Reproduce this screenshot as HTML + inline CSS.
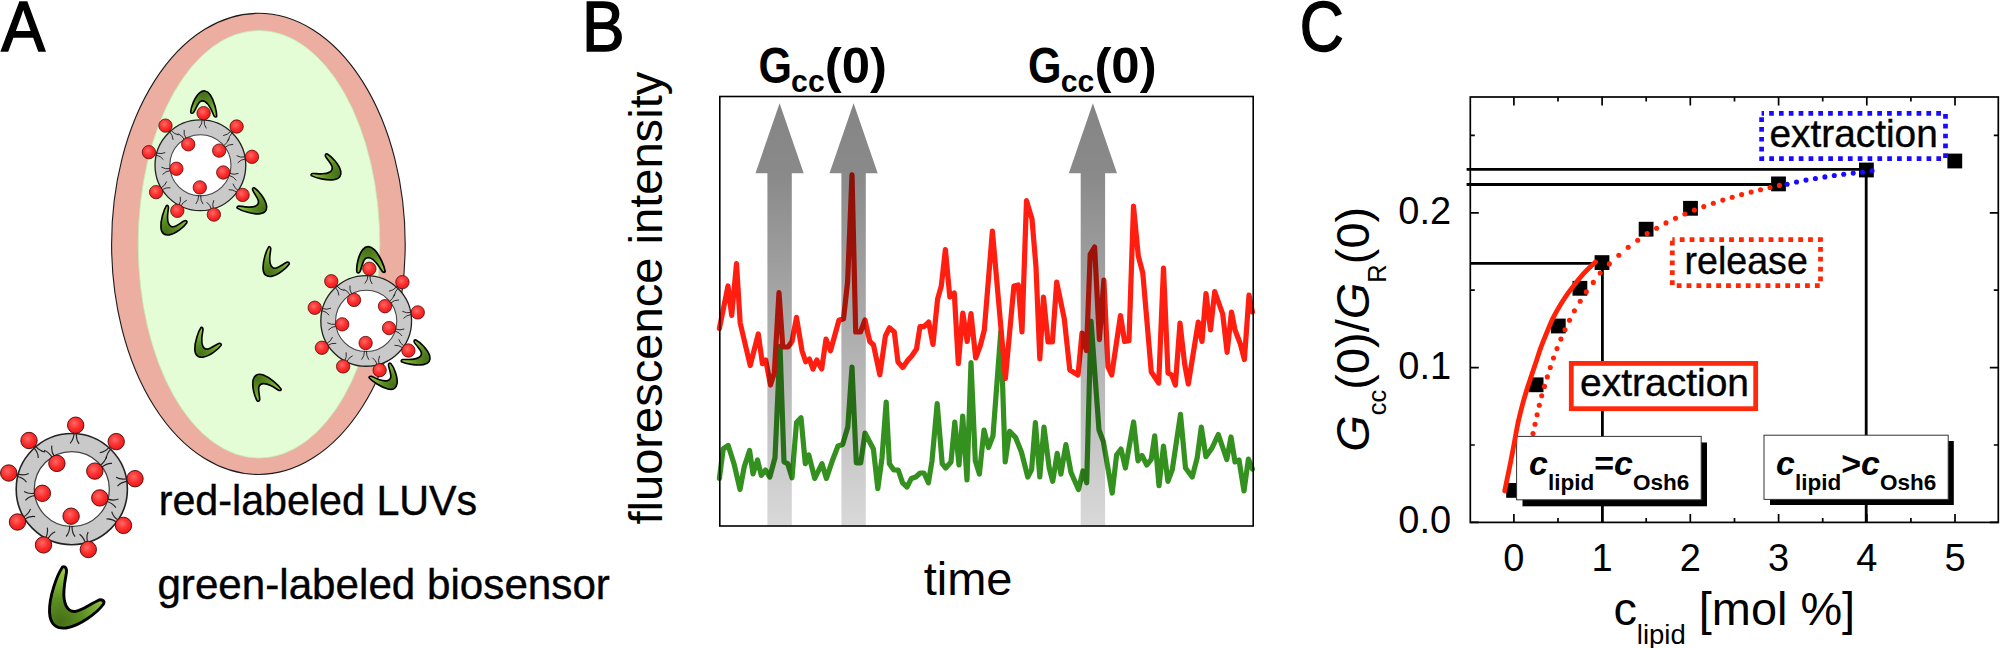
<!DOCTYPE html>
<html lang="en"><head><meta charset="utf-8"><title>Figure</title><style>html,body{margin:0;padding:0;background:#fff}svg{display:block}</style></head><body>
<svg width="2000" height="648" viewBox="0 0 2000 648" font-family="'Liberation Sans', sans-serif">
<defs>
<radialGradient id="ball" cx="0.42" cy="0.38" r="0.62"><stop offset="0" stop-color="#ff6a64"/><stop offset="0.55" stop-color="#fb3030"/><stop offset="1" stop-color="#ee1818"/></radialGradient>
<radialGradient id="biog" gradientUnits="userSpaceOnUse" cx="60" cy="622" r="52"><stop offset="0" stop-color="#456f17"/><stop offset="0.45" stop-color="#5c8f22"/><stop offset="1" stop-color="#9bcc45"/></radialGradient>
<linearGradient id="arr" x1="0" y1="0" x2="0" y2="1"><stop offset="0" stop-color="#000" stop-opacity="0.48"/><stop offset="0.17" stop-color="#000" stop-opacity="0.46"/><stop offset="1" stop-color="#000" stop-opacity="0.15"/></linearGradient>
<g id="ves"><circle r="55.6" fill="#c9c9c9" stroke="#222" stroke-width="1.6"/>
<circle r="37.5" fill="#fff" stroke="#444" stroke-width="1.3"/>
<path d="M2.3,-56.6Q2.0,-49.6 -1.7,-45.8M4.6,-56.4Q4.0,-49.4 7.3,-45.2M-38.3,-41.7Q-33.5,-36.6 -33.5,-31.2M-36.5,-43.3Q-32.0,-37.9 -26.8,-37.2M37.8,-42.2Q33.1,-36.9 27.9,-36.4M39.5,-40.5Q34.6,-35.6 34.4,-30.2M-55.1,-12.8Q-48.3,-11.3 -45.3,-6.9M-54.5,-15.2Q-47.8,-13.2 -43.1,-15.6M55.7,-10.4Q48.8,-9.0 44.3,-11.8M56.0,-8.0Q49.1,-7.1 45.7,-3.0M-47.8,30.4Q-41.9,26.6 -36.7,27.5M-49.0,28.3Q-42.9,24.8 -41.3,19.8M47.0,31.5Q41.2,27.7 39.9,22.5M45.6,33.5Q40.0,29.3 34.7,29.9M-24.5,51.0Q-21.5,44.7 -16.6,42.7M-26.7,49.9Q-23.3,43.8 -24.6,38.6M16.1,54.3Q14.0,47.6 16.4,42.8M13.8,54.9Q12.1,48.1 7.7,45.2M-19.3,-31.0Q-22.7,-37.1 -27.7,-38.8M-17.3,-32.2Q-21.0,-38.1 -19.9,-43.4M28.0,-23.4Q33.6,-27.6 34.6,-32.8M29.5,-21.6Q34.9,-26.0 40.2,-25.7M-36.0,6.3Q-42.9,7.1 -46.4,11.2M-36.3,4.0Q-43.2,5.2 -47.7,2.3M35.2,9.8Q41.8,12.1 46.7,9.9M34.5,12.1Q41.2,14.0 44.0,18.5M0.3,36.5Q-0.1,43.5 3.3,47.6M-2.1,36.5Q-2.1,43.5 -5.7,47.4" fill="none" stroke="#222" stroke-width="1.15"/>
<circle cx="3.9" cy="-63.9" r="8.2" fill="url(#ball)" stroke="#4a0505" stroke-width="0.9"/>
<circle cx="-42.8" cy="-48.6" r="8.2" fill="url(#ball)" stroke="#4a0505" stroke-width="0.9"/>
<circle cx="44.4" cy="-47.5" r="8.2" fill="url(#ball)" stroke="#4a0505" stroke-width="0.9"/>
<circle cx="-63.1" cy="-16.1" r="8.2" fill="url(#ball)" stroke="#4a0505" stroke-width="0.9"/>
<circle cx="63.2" cy="-10.4" r="8.2" fill="url(#ball)" stroke="#4a0505" stroke-width="0.9"/>
<circle cx="-54.3" cy="32.9" r="8.2" fill="url(#ball)" stroke="#4a0505" stroke-width="0.9"/>
<circle cx="51.7" cy="36.3" r="8.2" fill="url(#ball)" stroke="#4a0505" stroke-width="0.9"/>
<circle cx="-28.3" cy="55.8" r="8.2" fill="url(#ball)" stroke="#4a0505" stroke-width="0.9"/>
<circle cx="16.5" cy="60.4" r="8.2" fill="url(#ball)" stroke="#4a0505" stroke-width="0.9"/>
<circle cx="-14.9" cy="-25.7" r="8.2" fill="url(#ball)" stroke="#4a0505" stroke-width="0.9"/>
<circle cx="23.0" cy="-18.0" r="8.2" fill="url(#ball)" stroke="#4a0505" stroke-width="0.9"/>
<circle cx="-29.4" cy="4.2" r="8.2" fill="url(#ball)" stroke="#4a0505" stroke-width="0.9"/>
<circle cx="28.0" cy="8.8" r="8.2" fill="url(#ball)" stroke="#4a0505" stroke-width="0.9"/>
<circle cx="-0.7" cy="27.1" r="8.2" fill="url(#ball)" stroke="#4a0505" stroke-width="0.9"/></g>
<path id="bio" d="M62.5,567C57,575 49,597 49.5,612C50,625 57,629 66,628C80,626 98,612 103.5,604C105,601 102,599 99,600C90,604 82,611 75,611.5C67,612 63,603 64,590C64.5,580 67,573 66.5,570C66,567 64,566 62.5,567Z" fill="url(#biog)" stroke="#000" stroke-linejoin="round"/>
</defs>
<rect width="2000" height="648" fill="#fff"/>
<ellipse cx="258.4" cy="243.9" rx="146.8" ry="230.6" fill="#ecaea0" stroke="#1a1a1a" stroke-width="1.1"/>
<ellipse cx="259" cy="244.3" rx="120.8" ry="213.8" fill="#e4fdd6" stroke="#c3ecb4" stroke-width="0.8"/>
<g stroke-width="3.4" transform="translate(204.9,107.1) rotate(147.5) scale(0.477) translate(-72.8,-596.7)"><use href="#bio"/></g>
<g stroke-width="3.4" transform="translate(325.2,169.2) rotate(-95.7) scale(0.486) translate(-72.8,-596.7)"><use href="#bio"/></g>
<g stroke-width="3.4" transform="translate(171.9,219.7) rotate(-2.0) scale(0.482) translate(-72.8,-596.7)"><use href="#bio"/></g>
<g stroke-width="3.4" transform="translate(251.4,202.8) rotate(-91.3) scale(0.481) translate(-72.8,-596.7)"><use href="#bio"/></g>
<g stroke-width="3.4" transform="translate(274.1,261.1) rotate(-1.7) scale(0.484) translate(-72.8,-596.7)"><use href="#bio"/></g>
<g stroke-width="3.4" transform="translate(371.0,263.8) rotate(137.6) scale(0.512) translate(-72.8,-596.7)"><use href="#bio"/></g>
<g stroke-width="3.4" transform="translate(206.1,341.9) rotate(-0.4) scale(0.486) translate(-72.8,-596.7)"><use href="#bio"/></g>
<g stroke-width="3.4" transform="translate(266.0,388.3) rotate(112.3) scale(0.483) translate(-72.8,-596.7)"><use href="#bio"/></g>
<g stroke-width="3.4" transform="translate(414.6,354.8) rotate(-98.5) scale(0.472) translate(-72.8,-596.7)"><use href="#bio"/></g>
<g stroke-width="3.4" transform="translate(383.8,376.6) rotate(-75.0) scale(0.468) translate(-72.8,-596.7)"><use href="#bio"/></g>
<g transform="translate(200.4,165.3) scale(0.816)"><use href="#ves"/></g>
<g transform="translate(366.2,320.9) scale(0.816)"><use href="#ves"/></g>
<g transform="translate(71.8,489.1)"><use href="#ves"/></g>
<use href="#bio" stroke-width="2.9"/>
<text id="tA" x="1.2" y="50.85" font-size="71.1" stroke="#000" stroke-width="1.5" stroke-linejoin="miter" textLength="43.9" lengthAdjust="spacingAndGlyphs">A</text>
<text id="tred" stroke="#000" stroke-width="0.4" x="158.7" y="515" font-size="43" textLength="318.5" lengthAdjust="spacingAndGlyphs">red-labeled LUVs</text>
<text id="tgreen" stroke="#000" stroke-width="0.4" x="157.4" y="599.2" font-size="43" textLength="452.5" lengthAdjust="spacingAndGlyphs">green-labeled biosensor</text>
<text id="tB" x="582" y="50.85" font-size="71.1" stroke="#000" stroke-width="1.5" stroke-linejoin="miter" textLength="42.6" lengthAdjust="spacingAndGlyphs">B</text>
<text id="tfl" transform="translate(661.7,524.6) rotate(-90)" font-size="47.1">fluorescence intensity</text>
<text id="ttime" x="923.7" y="595" font-size="47">time</text>
<polyline points="719.4,478.4 723.2,449.0 728.2,445.5 734.0,463.7 740.0,489.5 744.3,466.6 749.6,450.5 753.0,474.0 757.5,460.0 761.3,475.4 765.4,470.0 769.8,477.0 775.0,457.8 780.0,346.4 784.0,462.0 787.7,463.7 792.0,477.8 796.5,422.6 801.0,417.7 805.3,463.7 808.8,455.0 814.7,478.4 822.0,463.7 826.4,478.4 832.3,460.8 838.0,446.0 842.6,444.6 847.8,427.0 852.0,367.0 856.3,463.0 860.7,463.0 865.0,433.0 873.4,449.0 877.8,488.6 882.0,457.8 886.2,402.0 889.4,463.7 893.8,470.0 898.2,470.0 902.6,482.8 907.0,487.0 911.4,478.4 915.8,477.0 920.2,473.0 924.0,473.0 928.4,482.8 932.0,460.8 937.2,403.6 942.2,463.7 945.7,468.0 951.0,462.0 954.8,422.0 959.0,465.0 962.7,416.0 967.0,480.0 971.0,362.5 975.3,460.8 979.4,474.0 984.0,430.0 988.5,447.6 993.0,435.8 1000.8,331.7 1005.2,462.0 1009.6,431.4 1015.5,437.3 1021.4,452.0 1027.8,477.0 1031.6,469.6 1035.4,422.6 1039.8,477.0 1044.0,427.0 1049.2,468.0 1052.7,481.3 1057.2,453.4 1060.9,474.0 1065.9,444.6 1071.0,472.5 1078.5,489.5 1082.9,471.0 1086.7,482.8 1091.0,321.0 1099.0,430.0 1103.4,441.7 1112.2,493.0 1116.6,455.0 1121.0,449.0 1125.4,468.0 1133.6,422.0 1138.0,460.8 1142.0,455.5 1146.8,465.0 1151.2,459.3 1154.7,435.8 1159.0,485.7 1163.5,446.0 1167.9,481.3 1172.3,469.6 1180.5,414.4 1185.5,468.0 1192.2,477.0 1197.2,457.8 1201.3,427.0 1205.9,456.7 1212.0,448.0 1218.3,434.5 1226.8,459.5 1231.0,437.0 1235.0,462.0 1239.0,460.0 1244.0,491.0 1248.4,459.0 1252.4,469.0" fill="none" stroke="#34901f" stroke-width="5.2" stroke-linejoin="round" stroke-linecap="round"/>
<polyline points="719.4,328.5 728.0,286.0 731.7,315.5 736.5,263.7 740.2,323.0 750.2,365.5 758.3,334.0 762.4,363.7 765.7,360.0 770.5,385.0 774.3,373.0 779.0,292.6 782.8,347.0 788.0,347.0 792.0,341.5 796.5,317.4 802.0,350.7 805.7,361.8 809.4,359.0 813.0,369.0 816.8,360.0 821.7,369.0 826.0,339.0 830.5,350.7 839.0,320.0 843.5,319.0 847.6,282.0 852.0,174.8 855.7,332.0 860.5,332.0 865.0,320.0 869.8,341.5 873.5,345.0 879.8,374.8 885.4,336.0 889.4,327.8 894.3,332.0 898.0,362.0 902.8,367.4 908.0,360.0 911.7,356.0 916.5,349.0 920.0,326.7 924.0,326.7 928.7,322.0 933.0,344.4 937.6,299.0 941.3,286.0 945.4,249.6 949.8,297.0 954.3,293.0 958.3,363.7 962.8,313.0 967.2,341.5 971.0,313.7 975.7,358.0 980.5,345.0 984.3,330.0 992.4,231.0 1005.4,378.5 1013.9,286.0 1018.3,285.0 1022.0,332.0 1026.5,200.7 1032.0,219.0 1036.0,267.0 1039.8,359.0 1043.5,297.0 1048.0,342.0 1052.4,342.0 1056.7,282.0 1064.3,319.0 1069.8,370.0 1078.0,375.0 1082.0,333.0 1086.5,350.7 1090.2,254.4 1094.6,247.0 1099.4,339.6 1103.9,280.0 1108.0,367.0 1111.7,375.0 1120.5,315.5 1124.6,341.5 1129.0,340.7 1133.5,206.0 1138.3,256.0 1142.8,273.0 1151.3,372.0 1158.7,383.0 1163.5,268.0 1168.0,373.0 1171.7,375.0 1175.4,385.0 1180.0,323.0 1184.6,363.7 1188.3,384.0 1198.3,322.0 1202.0,341.5 1206.0,293.5 1210.5,330.0 1214.7,291.5 1222.7,314.0 1227.1,352.3 1231.5,312.0 1235.0,330.0 1240.4,344.0 1244.4,359.6 1249.0,295.0 1252.4,312.0" fill="none" stroke="#ff1e0f" stroke-width="5.2" stroke-linejoin="round" stroke-linecap="round"/>
<path d="M779.6,103.3L803.7,173.2H791.8V525.6H767.4V173.2H755.5Z" fill="url(#arr)"/>
<path d="M853.6,103.3L877.7,173.2H865.8V525.6H841.4V173.2H829.5Z" fill="url(#arr)"/>
<path d="M1092.9,103.3L1117.0,173.2H1105.1V525.6H1080.7V173.2H1068.8Z" fill="url(#arr)"/>
<rect x="719.8" y="96.5" width="533.4" height="429.5" fill="none" stroke="#000" stroke-width="1.6"/>
<g id="tg0" font-weight="bold" lengthAdjust="spacingAndGlyphs"><text x="758.4" y="83.3" font-size="49.5" textLength="33.5" lengthAdjust="spacingAndGlyphs">G</text><text x="791.1" y="92.2" font-size="31" textLength="33.6" lengthAdjust="spacingAndGlyphs">cc</text><text x="824.8" y="83.3" font-size="50.5" textLength="62.2" lengthAdjust="spacingAndGlyphs">(0)</text></g>
<g id="tg1" font-weight="bold" lengthAdjust="spacingAndGlyphs"><text x="1028.0" y="83.3" font-size="49.5" textLength="33.5" lengthAdjust="spacingAndGlyphs">G</text><text x="1060.7" y="92.2" font-size="31" textLength="33.6" lengthAdjust="spacingAndGlyphs">cc</text><text x="1094.4" y="83.3" font-size="50.5" textLength="62.2" lengthAdjust="spacingAndGlyphs">(0)</text></g>
<text id="tC" x="1299.8" y="50.6" font-size="71.1" stroke="#000" stroke-width="1.5" stroke-linejoin="miter" textLength="44" lengthAdjust="spacingAndGlyphs">C</text>
<path d="M1466.6,169.4H1866.2V522.4 M1466.6,184.5H1778.5 M1470,263.3H1602.4V522.4" fill="none" stroke="#000" stroke-width="2.8"/>
<rect x="1470.3" y="97.0" width="528.0" height="425.4" fill="none" stroke="#000" stroke-width="1.7"/>
<path d="M1513.9,522.4v-8.5M1513.9,97.0v8.5M1558.0,522.4v-4.5M1558.0,97.0v4.5M1602.1,522.4v-8.5M1602.1,97.0v8.5M1646.2,522.4v-4.5M1646.2,97.0v4.5M1690.3,522.4v-8.5M1690.3,97.0v8.5M1734.5,522.4v-4.5M1734.5,97.0v4.5M1778.6,522.4v-8.5M1778.6,97.0v8.5M1822.7,522.4v-4.5M1822.7,97.0v4.5M1866.8,522.4v-8.5M1866.8,97.0v8.5M1910.9,522.4v-4.5M1910.9,97.0v4.5M1955.0,522.4v-8.5M1955.0,97.0v8.5M1470.3,522.4h8.5M1998.3,522.4h-8.5M1470.3,445.0h4.5M1998.3,445.0h-4.5M1470.3,367.6h8.5M1998.3,367.6h-8.5M1470.3,290.2h4.5M1998.3,290.2h-4.5M1470.3,212.8h8.5M1998.3,212.8h-8.5M1470.3,135.4h4.5M1998.3,135.4h-4.5" fill="none" stroke="#000" stroke-width="1.7"/>
<rect x="1506.2" y="483.0" width="14.8" height="14.8" fill="#000"/>
<rect x="1528.7" y="377.4" width="14.8" height="14.8" fill="#000"/>
<rect x="1550.9" y="318.6" width="14.8" height="14.8" fill="#000"/>
<rect x="1572.5" y="280.9" width="14.8" height="14.8" fill="#000"/>
<rect x="1594.6" y="255.2" width="14.8" height="14.8" fill="#000"/>
<rect x="1638.7" y="221.8" width="14.8" height="14.8" fill="#000"/>
<rect x="1683.1" y="200.9" width="14.8" height="14.8" fill="#000"/>
<rect x="1771.1" y="176.5" width="14.8" height="14.8" fill="#000"/>
<rect x="1859.0" y="162.6" width="14.8" height="14.8" fill="#000"/>
<rect x="1947.4" y="153.6" width="14.8" height="14.8" fill="#000"/>
<g fill="#ff2206"><circle cx="1533.0" cy="433.6" r="2.55"/><circle cx="1535.0" cy="424.2" r="2.55"/><circle cx="1537.1" cy="414.7" r="2.55"/><circle cx="1539.3" cy="405.2" r="2.55"/><circle cx="1541.7" cy="395.8" r="2.55"/><circle cx="1544.5" cy="386.4" r="2.55"/><circle cx="1547.3" cy="376.9" r="2.55"/><circle cx="1550.3" cy="367.5" r="2.55"/><circle cx="1553.5" cy="358.0" r="2.55"/><circle cx="1557.0" cy="348.6" r="2.55"/><circle cx="1560.9" cy="339.1" r="2.55"/><circle cx="1565.0" cy="329.7" r="2.55"/><circle cx="1569.5" cy="320.2" r="2.55"/><circle cx="1574.4" cy="310.8" r="2.55"/><circle cx="1580.2" cy="301.3" r="2.55"/><circle cx="1586.3" cy="291.9" r="2.55"/><circle cx="1593.3" cy="282.4" r="2.55"/><circle cx="1600.2" cy="273.0" r="2.55"/><circle cx="1609.3" cy="263.9" r="2.55"/><circle cx="1618.8" cy="255.2" r="2.55"/><circle cx="1628.2" cy="247.2" r="2.55"/><circle cx="1637.7" cy="240.2" r="2.55"/><circle cx="1647.1" cy="233.6" r="2.55"/><circle cx="1656.6" cy="228.2" r="2.55"/><circle cx="1666.0" cy="222.9" r="2.55"/><circle cx="1675.5" cy="218.3" r="2.55"/><circle cx="1684.9" cy="214.0" r="2.55"/><circle cx="1694.4" cy="210.1" r="2.55"/><circle cx="1703.8" cy="206.6" r="2.55"/><circle cx="1713.3" cy="203.2" r="2.55"/><circle cx="1722.8" cy="200.1" r="2.55"/><circle cx="1732.2" cy="197.3" r="2.55"/><circle cx="1741.6" cy="194.5" r="2.55"/><circle cx="1751.1" cy="192.1" r="2.55"/><circle cx="1760.5" cy="189.8" r="2.55"/><circle cx="1770.0" cy="187.5" r="2.55"/><circle cx="1779.4" cy="185.4" r="2.55"/></g>
<g fill="#1a0aff"><circle cx="1787.1" cy="184.3" r="2.55"/><circle cx="1796.5" cy="182.0" r="2.55"/><circle cx="1806.0" cy="180.1" r="2.55"/><circle cx="1815.4" cy="178.5" r="2.55"/><circle cx="1824.9" cy="176.9" r="2.55"/><circle cx="1834.3" cy="175.5" r="2.55"/><circle cx="1843.7" cy="174.3" r="2.55"/><circle cx="1853.2" cy="173.1" r="2.55"/><circle cx="1862.6" cy="172.2" r="2.55"/><circle cx="1872.1" cy="170.7" r="2.55"/></g>
<rect x="1761.6" y="113.4" width="183.9" height="45.3" fill="#fff" stroke="#1a0aff" stroke-width="4.7" stroke-dasharray="4.7 5.13" stroke-dashoffset="2.3"/>
<text id="tex1" stroke="#000" stroke-width="0.4" x="1769.5" y="147.3" font-size="39" textLength="168.3" lengthAdjust="spacingAndGlyphs">extraction</text>
<rect x="1672.3" y="239.6" width="148.2" height="46" fill="#fff" stroke="#ff2806" stroke-width="4.8" stroke-dasharray="4.8 5.07" stroke-dashoffset="2.4"/>
<text id="trel" stroke="#000" stroke-width="0.4" x="1684.6" y="273.6" font-size="39" textLength="123.2" lengthAdjust="spacingAndGlyphs">release</text>
<rect x="1571.3" y="363.4" width="184.4" height="45.3" fill="#fff" stroke="#ff2a0c" stroke-width="4.8"/>
<text id="tex2" stroke="#000" stroke-width="0.4" x="1580" y="396.3" font-size="39" textLength="169" lengthAdjust="spacingAndGlyphs">extraction</text>
<rect x="1522.5" y="442.5" width="184.5" height="63.8" fill="#000"/>
<rect x="1516.6" y="436.4" width="184.6" height="63.4" fill="#fff" stroke="#333" stroke-width="1"/>
<rect x="1770" y="441" width="183.8" height="64" fill="#000"/>
<rect x="1764" y="435.2" width="184.2" height="64.2" fill="#fff" stroke="#333" stroke-width="1"/>
<text id="tl1" x="1529.0" y="475.2" font-size="34" font-weight="bold"><tspan font-style="italic">c</tspan><tspan font-size="22.5" dy="14.3">lipid</tspan><tspan dy="-14.3">=</tspan><tspan font-style="italic">c</tspan><tspan font-size="22.5" dy="14.3">Osh6</tspan></text>
<text id="tl2" x="1776.0" y="475.2" font-size="34" font-weight="bold"><tspan font-style="italic">c</tspan><tspan font-size="22.5" dy="14.3">lipid</tspan><tspan dy="-14.3">&gt;</tspan><tspan font-style="italic">c</tspan><tspan font-size="22.5" dy="14.3">Osh6</tspan></text>
<path d="M1504.7,491.0C1505.3,487.9 1507.3,478.2 1508.5,472.5C1509.7,466.8 1510.6,462.1 1511.6,457.0C1512.6,451.9 1513.4,447.5 1514.5,441.6C1515.6,435.7 1516.9,427.9 1518.3,421.5C1519.7,415.1 1521.3,408.9 1522.8,403.3C1524.3,397.7 1525.9,392.7 1527.4,387.8C1528.9,382.9 1530.5,378.6 1532.0,374.0C1533.5,369.4 1535.2,364.4 1536.7,360.0C1538.2,355.6 1539.3,351.7 1540.8,347.7C1542.2,343.7 1543.4,341.0 1545.4,336.0C1547.5,331.0 1550.5,323.2 1553.1,317.9C1555.7,312.6 1558.3,308.2 1560.9,304.0C1563.5,299.8 1566.0,296.0 1568.6,292.4C1571.2,288.8 1573.7,285.6 1576.3,282.4C1578.9,279.2 1581.4,275.9 1584.0,273.1C1586.6,270.3 1589.8,267.2 1591.7,265.4C1593.6,263.5 1594.9,262.6 1595.5,262.0" fill="none" stroke="#ff2206" stroke-width="4.8" stroke-linecap="round"/>
<text x="1513.9" y="571.3" font-size="38" text-anchor="middle">0</text>
<text x="1602.1" y="571.3" font-size="38" text-anchor="middle">1</text>
<text x="1690.3" y="571.3" font-size="38" text-anchor="middle">2</text>
<text x="1778.6" y="571.3" font-size="38" text-anchor="middle">3</text>
<text x="1866.8" y="571.3" font-size="38" text-anchor="middle">4</text>
<text x="1955.0" y="571.3" font-size="38" text-anchor="middle">5</text>
<text x="1451.2" y="533.4" font-size="38" text-anchor="end">0.0</text>
<text x="1451.2" y="378.6" font-size="38" text-anchor="end">0.1</text>
<text x="1451.2" y="223.8" font-size="38" text-anchor="end">0.2</text>
<text id="txl" x="1613.4" y="624.7" font-size="46.9">c<tspan font-size="27.5" dy="19">lipid</tspan><tspan dy="-19"> [mol %]</tspan></text>
<text id="tyl" transform="translate(1368.5,451.8) rotate(-90)" font-size="47"><tspan font-style="italic">G</tspan><tspan font-size="25.5" dy="17.5">cc</tspan><tspan dy="-17.5">(0)/</tspan><tspan font-style="italic">G</tspan><tspan font-size="25.5" dy="17.5">R</tspan><tspan dy="-17.5">(0)</tspan></text>
</svg>
</body></html>
